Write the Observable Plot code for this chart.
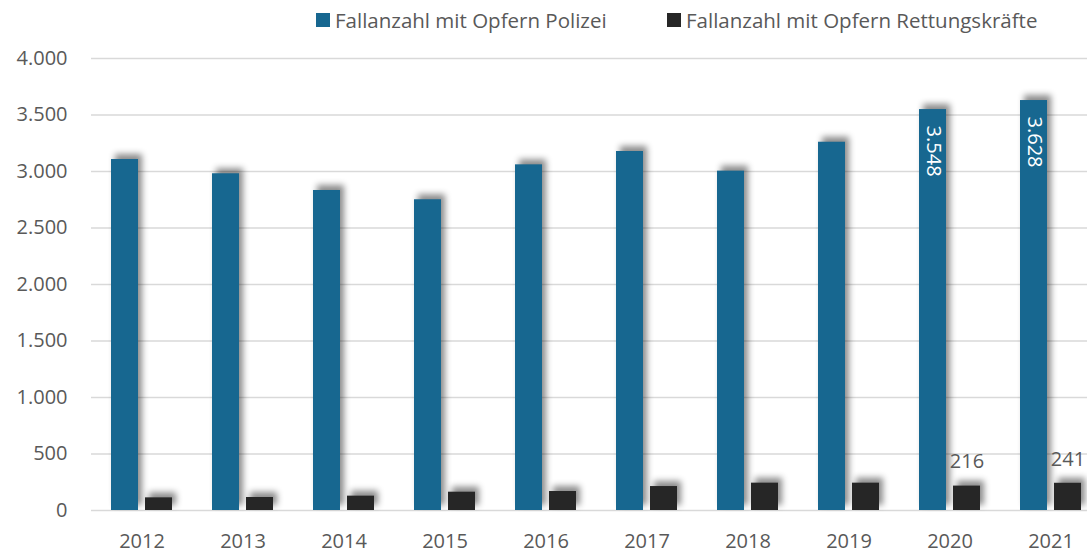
<!DOCTYPE html>
<html>
<head>
<meta charset="utf-8">
<script src="https://cdn.jsdelivr.net/npm/d3@7"></script>
<script src="https://cdn.jsdelivr.net/npm/@observablehq/plot@0.6"></script>
<style>
  html, body { margin: 0; padding: 0; background: #fff; overflow: hidden; }
  #legend { position: relative; height: 44px; font-family: "Open Sans", sans-serif; font-size: 20.5px; color: #595959; }
  .item { position: absolute; top: 6px; display: flex; align-items: center; white-space: nowrap; }
  .sw { width: 14px; height: 14px; margin-right: 5px; }
  g[aria-label="bar"] rect { filter: drop-shadow(4px -5px 3px rgba(0,0,0,0.45)); }
</style>
</head>
<body>
<div id="legend"></div>
<div id="chart"></div>
<script>
const years = ["2012","2013","2014","2015","2016","2017","2018","2019","2020","2021"];
const polizei = [3106, 2980, 2832, 2750, 3059, 3177, 3003, 3259, 3548, 3628];
const rettung = [112, 115, 127, 162, 168, 212, 242, 242, 216, 241];
const seriesNames = ["Fallanzahl mit Opfern Polizei", "Fallanzahl mit Opfern Rettungskräfte"];
const seriesColors = ["#176790", "#262626"];
const yTicks = [0, 500, 1000, 1500, 2000, 2500, 3000, 3500, 4000];
const labeledYears = ["2020", "2021"];

const de = d3.formatLocale({decimal: ",", thousands: ".", grouping: [3], currency: ["", " €"]});
const fmt = de.format(",d");

const rows = [];
years.forEach((y, i) => {
  rows.push({year: y, series: seriesNames[0], value: polizei[i]});
  rows.push({year: y, series: seriesNames[1], value: rettung[i]});
});
const labelRows = rows.filter(d => labeledYears.includes(d.year));

// legend
const legend = document.getElementById("legend");
const legendX = [316, 667];
seriesNames.forEach((s, i) => {
  const it = document.createElement("div");
  it.className = "item";
  it.style.left = legendX[i] + "px";
  it.innerHTML = `<span class="sw" style="background:${seriesColors[i]}"></span><span>${s}</span>`;
  legend.appendChild(it);
});

const chart = Plot.plot({
  width: 1087,
  height: 509,
  marginTop: 14,
  marginBottom: 43,
  marginLeft: 91,
  marginRight: -14,
  style: {fontFamily: "'Open Sans', sans-serif", fontSize: "20px", color: "#595959", background: "white"},
  fx: {domain: years, padding: 0, axis: "bottom", tickSize: 0, tickPadding: 23, label: null},
  x: {domain: seriesNames, paddingInner: 0.206, paddingOuter: 0.588, axis: null},
  y: {domain: [0, 4000], ticks: 8, tickSize: 0, tickPadding: 24, tickFormat: fmt, label: null},
  color: {domain: seriesNames, range: seriesColors},
  marks: [
    Plot.ruleY(yTicks, {stroke: "#d9d9d9", strokeWidth: 1.3}),
    Plot.barY(rows, {fx: "year", x: "series", y: "value", fill: "series"}),
    Plot.text(labelRows.filter(d => d.series === seriesNames[0]), {
      fx: "year", x: "series", y: "value", text: d => fmt(d.value),
      rotate: 90, textAnchor: "start", lineAnchor: "middle", dy: 16,
      fill: "white", fontSize: 20
    }),
    Plot.text(labelRows.filter(d => d.series === seriesNames[1]), {
      fx: "year", x: "series", y: "value", text: d => fmt(d.value),
      textAnchor: "middle", lineAnchor: "middle", dy: -24,
      fill: "#595959", fontSize: 20
    })
  ]
});
document.getElementById("chart").appendChild(chart);
</script>
</body>
</html>
